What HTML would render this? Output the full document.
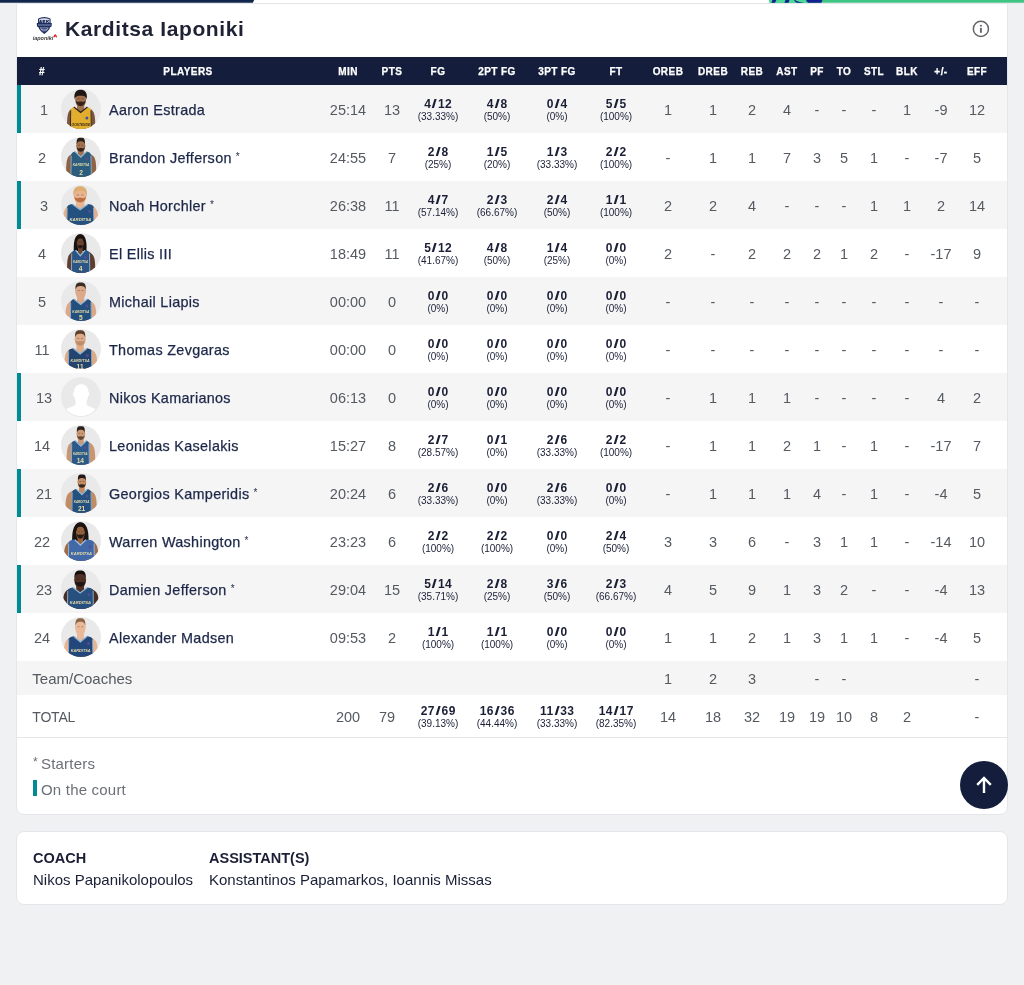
<!DOCTYPE html>
<html lang="en"><head><meta charset="utf-8"><title>Karditsa Iaponiki - Box score</title>
<style>
*{box-sizing:border-box;margin:0;padding:0}
html,body{width:1024px;height:985px;overflow:hidden}
body{background:#f0f1f3;font-family:"Liberation Sans",Arial,sans-serif;color:#1d2340;position:relative}
.topbar-l{position:absolute;left:0;top:0;width:256px;height:3px;background:#12284f;clip-path:polygon(0 0,100% 0,251px 100%,0 100%)}
.topbar-r{position:absolute;left:769px;top:0;width:255px;height:3px;background:#3cb878}
.topbar-r i{position:absolute;top:0;height:3px;background:#13208c}
.topbar{position:absolute;left:0;top:0;display:block}
.card{position:absolute;left:16px;width:992px;background:#fff;border:1px solid #e4e6ea;border-radius:8px}
.card1{top:3px;height:812px;border-top-left-radius:0;border-top-right-radius:0}
.card2{top:831px;height:74px}
.logo{position:absolute;left:15px;top:12px}
h1{position:absolute;left:48px;top:11px;font-size:21px;line-height:28px;font-weight:700;color:#1e2234;letter-spacing:0.6px;white-space:nowrap}
.info{position:absolute;left:954px;top:15px}
.thead{position:absolute;left:0;top:53px;width:990px;height:28px;background:#141e3c;color:#fff;font-size:10px;font-weight:700;line-height:30px;letter-spacing:0.45px;-webkit-text-stroke:0.25px #fff}
.row{position:absolute;left:0;width:990px;height:48px;font-size:14.5px;line-height:50px;color:#555a60}
.row.odd{background:#f5f5f5}
.row.on::before{content:"";position:absolute;left:0;top:0;width:4px;height:48px;background:#008b95}
.c{position:absolute;top:0;width:80px;text-align:center;white-space:nowrap}
.no{position:absolute;top:0;left:5px;width:40px;text-align:center}
.on .no{left:7px}
.av{position:absolute;left:44px;top:4px;width:40px;height:40px;border-radius:50%;background:#e9e9ea;overflow:hidden;display:block}
.on .av{left:44px}
.av.empty{background:#fff;border:1px solid #ececec}
.av svg{display:block}
.nm{position:absolute;left:92px;top:0;color:#1d2748;font-size:14.4px;white-space:nowrap;letter-spacing:0.32px;-webkit-text-stroke:0.25px #1d2748}
.nm sup{font-size:10px;vertical-align:baseline;position:relative;top:-3px;margin-left:4px;-webkit-text-stroke:0}
.sh{line-height:normal;color:#1a1f36}
.sh b{display:block;font-size:12px;line-height:12px;font-weight:700;margin-top:13px;letter-spacing:0.5px;text-indent:0.5px}
.sh b i{font-style:normal;display:inline-block;transform:scaleX(1.6);margin:0 1.1px}
.sh span{display:block;font-size:10px;line-height:12px;font-weight:400;margin-top:1px}
.row.tc{height:34px;line-height:36px}
.row.tot{height:42px;line-height:44px}
.row.tot .sh b{margin-top:10px}
.lbl{position:absolute;left:15.3px;top:0;font-size:15px;color:#555a60}
.tot .lbl{font-size:14px;letter-spacing:-0.2px}
.sep{position:absolute;left:0;top:733px;width:990px;height:1px;background:#e4e6ea}
.legend{position:absolute;left:16px;font-size:15px;color:#6b6f76;line-height:20px;white-space:nowrap;letter-spacing:0.2px}
.legend em{font-style:normal;font-size:12px;position:absolute;left:0;top:-2px}
.legend i{position:absolute;left:0;top:0px;width:4px;height:16px;background:#008b95}
.totop{position:absolute;left:943px;top:757px;width:48px;height:48px;border-radius:50%;background:#141e3c}
.coach{position:absolute;top:15px;font-size:15px;line-height:22px;color:#1a1f36;white-space:nowrap}
.coach b{display:block;font-size:14.5px;font-weight:700}
</style></head><body>
<svg class="topbar" width="1024" height="4" viewBox="0 0 1024 4">
<rect x="0" y="0" width="1024" height="3" fill="#fff"/><rect x="0" y="3" width="1024" height="1" fill="#e9eaed"/>
<path d="M0 0 H254.2 L252.8 2.75 H0 Z" fill="#11264b"/>
<path d="M769 0 H1024 V2.75 H769.6 Z" fill="#3fc583"/>
<path d="M769 0 H822 V2.75 H769.6 Z" fill="#4cd896"/>
<path d="M772.4 0 H776.4 L775 2.75 H771.4 Z M785.5 0 H789.5 L788.6 2.75 H784.4 Z M795 0 C797 1.6 800 2.2 804 2.75 H797 C795.6 2 794.4 1 794 0 Z M806 0 H822.4 L821.4 2.75 H808 C807 2 806.4 1 806 0 Z" fill="#13208f"/>
</svg>
<div class="card card1">
<svg class="logo" width="28" height="28" viewBox="0 0 28 28">
<path d="M6 2.7 C8 1.6 10 0.9 12.3 0.9 C14.6 0.9 16.6 1.6 18.6 2.7 L18.6 6.7 L19.9 7.3 L19.5 10.5 L18.2 11.2 C17.2 14 15 16.3 12.3 17.9 C9.6 16.3 7.4 14 6.4 11.2 L5.1 10.5 L4.7 7.3 L6 6.7 Z" fill="#1f2f63"/>
<path d="M7.1 3.3 C9 2.5 10.5 2.2 12.3 2.2 C14.1 2.2 15.6 2.5 17.5 3.3 L17.5 7 L7.1 7 Z" fill="#d3d9e6"/>
<text x="12.3" y="6.5" text-anchor="middle" font-family="Liberation Sans, Arial, sans-serif" font-size="4.4" font-weight="700" fill="#0f1a45" stroke="#0f1a45" stroke-width="0.25" letter-spacing="0.45">AEK</text>
<path d="M6 8.5 H18.6 V9.5 H6 Z" fill="#8794b6"/>
<path d="M7.8 11.4 H16.8 C16 13 15 14.2 13.8 15.2 H10.8 C9.6 14.2 8.6 13 7.8 11.4 Z" fill="#c9d0e0" opacity=".85"/>
<path d="M9.3 12.4 H15.3 M10.3 14 H14.3" stroke="#1f2f63" stroke-width="0.8"/>
<text x="0.8" y="24.1" font-family="Liberation Sans, Arial, sans-serif" font-size="5.5" font-weight="700" font-style="italic" fill="#3a3a3c" letter-spacing="-0.05">iaponiki</text>
<path d="M21.7 21.4 C21.2 19.6 22.6 18.4 23.4 17.9 C23.6 18.8 25.4 19.4 25 21.4 C24.6 21.9 24.2 21.2 23.4 20.6 C22.6 21.2 22.2 21.9 21.7 21.4 Z" fill="#e4262c"/>
</svg>
<h1>Karditsa Iaponiki</h1>
<svg class="info" width="20" height="20" viewBox="0 0 20 20"><circle cx="9.9" cy="9.9" r="7.55" fill="none" stroke="#636569" stroke-width="1.5"/><rect x="8.95" y="8.9" width="1.9" height="4.9" fill="#636569"/><rect x="8.95" y="5.9" width="1.9" height="1.6" fill="#636569"/></svg>

<div class="thead"><span class="c" style="left:-15px">#</span><span class="c" style="left:131px">PLAYERS</span><span class="c" style="left:291px">MIN</span><span class="c" style="left:335px">PTS</span><span class="c" style="left:381px">FG</span><span class="c" style="left:440px">2PT FG</span><span class="c" style="left:500px">3PT FG</span><span class="c" style="left:559px">FT</span><span class="c" style="left:611px">OREB</span><span class="c" style="left:656px">DREB</span><span class="c" style="left:695px">REB</span><span class="c" style="left:730px">AST</span><span class="c" style="left:760px">PF</span><span class="c" style="left:787px">TO</span><span class="c" style="left:817px">STL</span><span class="c" style="left:850px">BLK</span><span class="c" style="left:884px">+/-</span><span class="c" style="left:920px">EFF</span></div>
<div class="row odd on" style="top:81px"><span class="no">1</span><span class="av"><svg viewBox="0 0 40 40" width="40" height="40"><path d="M6.2 41 C5.7 27.0 6.7 22.5 10.2 20.0 L29.5 20.0 C33.6 22.5 34.6 27.0 34.1 41 Z" fill="#7a5540"/><rect x="16.02" y="14.60" width="7.25" height="7.70" fill="#a06f4e"/><path d="M9.2 41 L9.5 21.5 C9.799999999999999 19.5 11.2 18.3 12.89 17.90 L19.65 23.50 L26.41 17.90 C28.5 18.3 29.9 19.5 30.2 21.5 L30.5 41 Z" fill="#e3ae2d"/><path d="M12.89 18.10 L19.65 23.50 L26.41 18.10" fill="none" stroke="#2a2320" stroke-width="1.3"/><path d="M9.7 21.5 L9.399999999999999 41 M30.0 21.5 L30.3 41" fill="none" stroke="#2a2320" stroke-width="0.9"/><ellipse cx="19.65" cy="10.45" rx="5.38" ry="8.55" fill="#a06f4e"/><ellipse cx="19.65" cy="10.25" rx="5.73" ry="1.5" fill="#a06f4e"/><path d="M14.74 11.05 C14.97 19.20 24.33 19.20 24.56 11.05 C22.57 14.05 22.28 12.45 19.65 12.45 C17.02 12.45 16.72 14.05 14.74 11.05 Z" fill="#2a1c16" opacity=".92"/><path d="M13.600000000000001 10.35 C12.4 2.1 16.65 0.5000000000000001 19.65 0.7000000000000001 C22.65 0.5000000000000001 26.9 2.1 25.7 10.35 C24.5 6.9 22.65 6.699999999999999 19.65 6.699999999999999 C16.65 6.699999999999999 14.8 6.9 13.600000000000001 10.35 Z" fill="#1f1714"/><path d="M16.72 9.65 h1.99 M20.59 9.65 h1.99" stroke="#2a1c16" stroke-width="0.6" opacity=".55"/><text x="19.85" y="36.5" text-anchor="middle" font-family="Liberation Sans, Arial, sans-serif" font-size="3.30" font-weight="700" font-style="italic" fill="#3a2a18">OOSTENDE</text><circle cx="25.90" cy="29.00" r="1.5" fill="#2b4ea0" opacity=".9"/></svg></span><span class="nm">Aaron Estrada</span><span class="c" style="left:291px">25:14</span><span class="c" style="left:335px">13</span><span class="c sh" style="left:381px"><b>4<i>/</i>12</b><span>(33.33%)</span></span><span class="c sh" style="left:440px"><b>4<i>/</i>8</b><span>(50%)</span></span><span class="c sh" style="left:500px"><b>0<i>/</i>4</b><span>(0%)</span></span><span class="c sh" style="left:559px"><b>5<i>/</i>5</b><span>(100%)</span></span><span class="c" style="left:611px">1</span><span class="c" style="left:656px">1</span><span class="c" style="left:695px">2</span><span class="c" style="left:730px">4</span><span class="c" style="left:760px">-</span><span class="c" style="left:787px">-</span><span class="c" style="left:817px">-</span><span class="c" style="left:850px">1</span><span class="c" style="left:884px">-9</span><span class="c" style="left:920px">12</span></div>
<div class="row" style="top:129px"><span class="no">2</span><span class="av"><svg viewBox="0 0 40 40" width="40" height="40"><path d="M5.2 41 C4.7 24.0 5.7 19.5 10.7 17.0 L29.5 17.0 C34.6 19.5 35.6 24.0 35.1 41 Z" fill="#8f6244"/><rect x="16.82" y="12.00" width="5.95" height="6.80" fill="#a3714f"/><path d="M9.7 41 L10.0 18.5 C10.299999999999999 16.0 11.7 14.8 14.04 14.40 L19.80 20.00 L25.56 14.40 C28.5 14.8 29.9 16.0 30.2 18.5 L30.5 41 Z" fill="#2c5d7f"/><path d="M14.04 14.60 L19.80 20.00 L25.56 14.60" fill="none" stroke="#8fb4cc" stroke-width="1.3"/><path d="M10.2 18.5 L9.899999999999999 41 M30.0 18.5 L30.3 41" fill="none" stroke="#8fb4cc" stroke-width="0.9"/><ellipse cx="19.80" cy="9.00" rx="4.42" ry="7.40" fill="#a3714f"/><ellipse cx="19.80" cy="8.80" rx="4.70" ry="1.5" fill="#a3714f"/><path d="M15.77 9.60 C15.96 16.60 23.64 16.60 23.83 9.60 C22.20 12.60 21.96 11.00 19.80 11.00 C17.64 11.00 17.40 12.60 15.77 9.60 Z" fill="#2a1c16" opacity=".92"/><path d="M15.7 7.80 C15.2 1.4 16.8 0.7000000000000001 19.8 0.8 C22.8 0.7000000000000001 24.400000000000002 1.4 23.900000000000002 7.80 C23.3 5.0 22.400000000000002 4.2 19.8 4.3 C17.2 4.2 16.3 5.0 15.7 7.80 Z" fill="#2a1e18"/><path d="M17.40 8.20 h1.63 M20.57 8.20 h1.63" stroke="#2a1c16" stroke-width="0.6" opacity=".55"/><text x="20.10" y="29.1" text-anchor="middle" font-family="Liberation Sans, Arial, sans-serif" font-size="3.22" font-weight="700" font-style="italic" fill="#e8dca8">KARDITSA</text><text x="20.10" y="37.6" text-anchor="middle" font-family="Liberation Sans, Arial, sans-serif" font-size="6.6" font-weight="700" fill="#e8dca8">2</text><circle cx="25.90" cy="21.60" r="1.5" fill="#5a4a9a" opacity=".9"/></svg></span><span class="nm">Brandon Jefferson<sup>*</sup></span><span class="c" style="left:291px">24:55</span><span class="c" style="left:335px">7</span><span class="c sh" style="left:381px"><b>2<i>/</i>8</b><span>(25%)</span></span><span class="c sh" style="left:440px"><b>1<i>/</i>5</b><span>(20%)</span></span><span class="c sh" style="left:500px"><b>1<i>/</i>3</b><span>(33.33%)</span></span><span class="c sh" style="left:559px"><b>2<i>/</i>2</b><span>(100%)</span></span><span class="c" style="left:611px">-</span><span class="c" style="left:656px">1</span><span class="c" style="left:695px">1</span><span class="c" style="left:730px">7</span><span class="c" style="left:760px">3</span><span class="c" style="left:787px">5</span><span class="c" style="left:817px">1</span><span class="c" style="left:850px">-</span><span class="c" style="left:884px">-7</span><span class="c" style="left:920px">5</span></div>
<div class="row odd on" style="top:177px"><span class="no">3</span><span class="av"><svg viewBox="0 0 40 40" width="40" height="40"><path d="M2.1 41 C1.6 28.4 2.6 23.9 6.7 21.4 L32.1 21.4 C36.6 23.9 37.6 28.4 37.1 41 Z" fill="#e6b08c"/><rect x="14.90" y="14.90" width="8.49" height="8.50" fill="#e9b591"/><path d="M5.7 41 L6.0 22.9 C6.3 20.599999999999998 7.7 19.4 11.44 19.00 L19.15 24.60 L26.86 19.00 C31.1 19.4 32.5 20.599999999999998 32.800000000000004 22.9 L33.1 41 Z" fill="#23507f"/><path d="M11.44 19.20 L19.15 24.60 L26.86 19.20" fill="none" stroke="#8fb4d4" stroke-width="1.3"/><path d="M6.2 22.9 L5.9 41 M32.6 22.9 L32.9 41" fill="none" stroke="#8fb4d4" stroke-width="0.9"/><ellipse cx="19.15" cy="10.75" rx="6.30" ry="8.55" fill="#e9b591"/><ellipse cx="19.15" cy="10.55" rx="6.71" ry="1.5" fill="#e9b591"/><path d="M13.40 11.35 C13.67 19.50 24.63 19.50 24.90 11.35 C22.57 14.35 22.23 12.75 19.15 12.75 C16.07 12.75 15.72 14.35 13.40 11.35 Z" fill="#b9683d" opacity=".92"/><path d="M12.3 11.15 C11.5 2.4 16.15 1.0999999999999999 19.15 1.2 C22.15 1.0999999999999999 26.8 2.4 26.0 11.15 C24.8 6.6 22.15 5.6 19.15 5.800000000000001 C16.15 5.6 13.5 6.6 12.3 11.15 Z" fill="#dcae72"/><path d="M15.72 9.95 h2.33 M20.25 9.95 h2.33" stroke="#2a1c16" stroke-width="0.6" opacity=".55"/><text x="19.40" y="35.5" text-anchor="middle" font-family="Liberation Sans, Arial, sans-serif" font-size="4.24" font-weight="700" font-style="italic" fill="#e8dca8">KARDITSA</text><circle cx="28.50" cy="26.20" r="1.5" fill="#5a4a9a" opacity=".9"/></svg></span><span class="nm">Noah Horchler<sup>*</sup></span><span class="c" style="left:291px">26:38</span><span class="c" style="left:335px">11</span><span class="c sh" style="left:381px"><b>4<i>/</i>7</b><span>(57.14%)</span></span><span class="c sh" style="left:440px"><b>2<i>/</i>3</b><span>(66.67%)</span></span><span class="c sh" style="left:500px"><b>2<i>/</i>4</b><span>(50%)</span></span><span class="c sh" style="left:559px"><b>1<i>/</i>1</b><span>(100%)</span></span><span class="c" style="left:611px">2</span><span class="c" style="left:656px">2</span><span class="c" style="left:695px">4</span><span class="c" style="left:730px">-</span><span class="c" style="left:760px">-</span><span class="c" style="left:787px">-</span><span class="c" style="left:817px">1</span><span class="c" style="left:850px">1</span><span class="c" style="left:884px">2</span><span class="c" style="left:920px">14</span></div>
<div class="row" style="top:225px"><span class="no">4</span><span class="av"><svg viewBox="0 0 40 40" width="40" height="40"><path d="M12.8 18.0 C12.200000000000001 5.3 15.3 1.3 19.3 1.3 C23.3 1.3 26.1 5.3 25.5 18.0 Z" fill="#17110f"/><path d="M6.2 41 C5.7 26.0 6.7 21.5 11.2 19.0 L28.0 19.0 C33.6 21.5 34.6 26.0 34.1 41 Z" fill="#5e3e2c"/><rect x="17.01" y="12.60" width="4.59" height="8.90" fill="#6a4631"/><path d="M10.2 41 L10.5 20.5 C10.799999999999999 18.7 12.2 17.5 14.59 17.10 L19.30 22.70 L24.02 17.10 C27.0 17.5 28.4 18.7 28.7 20.5 L29.0 41 Z" fill="#2a5585"/><path d="M14.59 17.30 L19.30 22.70 L24.02 17.30" fill="none" stroke="#8fb4d4" stroke-width="1.3"/><path d="M10.7 20.5 L10.399999999999999 41 M28.5 20.5 L28.8 41" fill="none" stroke="#8fb4d4" stroke-width="0.9"/><ellipse cx="19.30" cy="10.10" rx="3.40" ry="6.90" fill="#6a4631"/><ellipse cx="19.30" cy="9.90" rx="3.63" ry="1.5" fill="#6a4631"/><path d="M16.19 10.70 C16.34 17.20 22.26 17.20 22.41 10.70 C21.15 13.70 20.96 12.10 19.30 12.10 C17.64 12.10 17.45 13.70 16.19 10.70 Z" fill="#1d1512" opacity=".92"/><path d="M15.799999999999999 9.50 C15.2 2.4 16.3 1.5999999999999999 19.3 1.5999999999999999 C22.3 1.5999999999999999 23.4 2.4 22.8 9.50 C22.0 6.4 21.8 5.6 19.3 5.6 C16.8 5.6 16.6 6.4 15.799999999999999 9.50 Z" fill="#17110f"/><path d="M17.45 9.30 h1.26 M19.89 9.30 h1.26" stroke="#2a1c16" stroke-width="0.6" opacity=".55"/><text x="19.60" y="30.1" text-anchor="middle" font-family="Liberation Sans, Arial, sans-serif" font-size="2.91" font-weight="700" font-style="italic" fill="#e8dca8">KARDITSA</text><text x="19.60" y="38.1" text-anchor="middle" font-family="Liberation Sans, Arial, sans-serif" font-size="6.6" font-weight="700" fill="#e8dca8">4</text><circle cx="24.40" cy="24.30" r="1.5" fill="#5a4a9a" opacity=".9"/></svg></span><span class="nm">El Ellis III</span><span class="c" style="left:291px">18:49</span><span class="c" style="left:335px">11</span><span class="c sh" style="left:381px"><b>5<i>/</i>12</b><span>(41.67%)</span></span><span class="c sh" style="left:440px"><b>4<i>/</i>8</b><span>(50%)</span></span><span class="c sh" style="left:500px"><b>1<i>/</i>4</b><span>(25%)</span></span><span class="c sh" style="left:559px"><b>0<i>/</i>0</b><span>(0%)</span></span><span class="c" style="left:611px">2</span><span class="c" style="left:656px">-</span><span class="c" style="left:695px">2</span><span class="c" style="left:730px">2</span><span class="c" style="left:760px">2</span><span class="c" style="left:787px">1</span><span class="c" style="left:817px">2</span><span class="c" style="left:850px">-</span><span class="c" style="left:884px">-17</span><span class="c" style="left:920px">9</span></div>
<div class="row odd" style="top:273px"><span class="no">5</span><span class="av"><svg viewBox="0 0 40 40" width="40" height="40"><path d="M4.6 41 C4.1 26.9 5.1 22.4 10.2 19.9 L29.5 19.9 C34.6 22.4 35.6 26.9 35.1 41 Z" fill="#dba888"/><rect x="16.02" y="13.80" width="7.25" height="8.50" fill="#dcaa8b"/><path d="M9.2 41 L9.5 21.4 C9.799999999999999 19.5 11.2 18.3 12.89 17.90 L19.65 23.50 L26.41 17.90 C28.5 18.3 29.9 19.5 30.2 21.4 L30.5 41 Z" fill="#234f7c"/><path d="M12.89 18.10 L19.65 23.50 L26.41 18.10" fill="none" stroke="#8fb4d4" stroke-width="1.3"/><path d="M9.7 21.4 L9.399999999999999 41 M30.0 21.4 L30.3 41" fill="none" stroke="#8fb4d4" stroke-width="0.9"/><ellipse cx="19.65" cy="10.30" rx="5.38" ry="7.90" fill="#dcaa8b"/><ellipse cx="19.65" cy="10.10" rx="5.73" ry="1.5" fill="#dcaa8b"/><path d="M14.5 9.10 C14.0 2.2 16.65 1.5 19.65 1.6 C22.65 1.5 25.3 2.2 24.8 9.10 C24.2 5.800000000000001 22.25 5.0 19.65 5.1 C17.049999999999997 5.0 15.100000000000001 5.800000000000001 14.5 9.10 Z" fill="#3c2c24"/><path d="M16.72 9.50 h1.99 M20.59 9.50 h1.99" stroke="#2a1c16" stroke-width="0.6" opacity=".55"/><text x="19.85" y="32.4" text-anchor="middle" font-family="Liberation Sans, Arial, sans-serif" font-size="3.30" font-weight="700" font-style="italic" fill="#e8dca8">KARDITSA</text><text x="19.85" y="39.4" text-anchor="middle" font-family="Liberation Sans, Arial, sans-serif" font-size="6.6" font-weight="700" fill="#e8dca8">5</text><circle cx="25.90" cy="25.10" r="1.5" fill="#5a4a9a" opacity=".9"/></svg></span><span class="nm">Michail Liapis</span><span class="c" style="left:291px">00:00</span><span class="c" style="left:335px">0</span><span class="c sh" style="left:381px"><b>0<i>/</i>0</b><span>(0%)</span></span><span class="c sh" style="left:440px"><b>0<i>/</i>0</b><span>(0%)</span></span><span class="c sh" style="left:500px"><b>0<i>/</i>0</b><span>(0%)</span></span><span class="c sh" style="left:559px"><b>0<i>/</i>0</b><span>(0%)</span></span><span class="c" style="left:611px">-</span><span class="c" style="left:656px">-</span><span class="c" style="left:695px">-</span><span class="c" style="left:730px">-</span><span class="c" style="left:760px">-</span><span class="c" style="left:787px">-</span><span class="c" style="left:817px">-</span><span class="c" style="left:850px">-</span><span class="c" style="left:884px">-</span><span class="c" style="left:920px">-</span></div>
<div class="row" style="top:321px"><span class="no">11</span><span class="av"><svg viewBox="0 0 40 40" width="40" height="40"><path d="M3.6 41 C3.1 27.6 4.1 23.1 8.2 20.6 L30.0 20.6 C35.6 23.1 36.6 27.6 36.1 41 Z" fill="#dcaa86"/><rect x="15.52" y="14.00" width="7.25" height="9.60" fill="#ddab87"/><path d="M7.2 41 L7.5 22.1 C7.8 20.8 9.2 19.6 12.39 19.20 L19.15 24.80 L25.91 19.20 C29.0 19.6 30.4 20.8 30.7 22.1 L31.0 41 Z" fill="#23446f"/><path d="M12.39 19.40 L19.15 24.80 L25.91 19.40" fill="none" stroke="#8fb4d4" stroke-width="1.3"/><path d="M7.7 22.1 L7.4 41 M30.5 22.1 L30.8 41" fill="none" stroke="#8fb4d4" stroke-width="0.9"/><ellipse cx="19.15" cy="10.25" rx="5.38" ry="8.15" fill="#ddab87"/><ellipse cx="19.15" cy="10.05" rx="5.73" ry="1.5" fill="#ddab87"/><path d="M14.24 10.85 C14.47 18.60 23.83 18.60 24.06 10.85 C22.07 13.85 21.78 12.25 19.15 12.25 C16.52 12.25 16.22 13.85 14.24 10.85 Z" fill="#b98a68" opacity=".92"/><path d="M14.0 9.05 C13.5 1.9 16.15 1.2 19.15 1.3 C22.15 1.2 24.8 1.9 24.3 9.05 C23.7 5.5 21.75 4.7 19.15 4.8 C16.549999999999997 4.7 14.600000000000001 5.5 14.0 9.05 Z" fill="#5b3f2b"/><path d="M16.22 9.45 h1.99 M20.09 9.45 h1.99" stroke="#2a1c16" stroke-width="0.6" opacity=".55"/><text x="19.10" y="33.2" text-anchor="middle" font-family="Liberation Sans, Arial, sans-serif" font-size="3.69" font-weight="700" font-style="italic" fill="#e8dca8">KARDITSA</text><text x="19.10" y="40.2" text-anchor="middle" font-family="Liberation Sans, Arial, sans-serif" font-size="6.6" font-weight="700" fill="#e8dca8">11</text><circle cx="26.40" cy="26.40" r="1.5" fill="#5a4a9a" opacity=".9"/></svg></span><span class="nm">Thomas Zevgaras</span><span class="c" style="left:291px">00:00</span><span class="c" style="left:335px">0</span><span class="c sh" style="left:381px"><b>0<i>/</i>0</b><span>(0%)</span></span><span class="c sh" style="left:440px"><b>0<i>/</i>0</b><span>(0%)</span></span><span class="c sh" style="left:500px"><b>0<i>/</i>0</b><span>(0%)</span></span><span class="c sh" style="left:559px"><b>0<i>/</i>0</b><span>(0%)</span></span><span class="c" style="left:611px">-</span><span class="c" style="left:656px">-</span><span class="c" style="left:695px">-</span><span class="c" style="left:730px">-</span><span class="c" style="left:760px">-</span><span class="c" style="left:787px">-</span><span class="c" style="left:817px">-</span><span class="c" style="left:850px">-</span><span class="c" style="left:884px">-</span><span class="c" style="left:920px">-</span></div>
<div class="row odd on" style="top:369px"><span class="no">13</span><span class="av"><svg viewBox="0 0 40 40" width="40" height="40"><path d="M13 15 C13 4.5 27.5 4.5 27.5 15 C28.6 15.4 28.4 19 27 19.4 C26.6 22 26 23.2 25.6 24 L25.6 27.5 C27 29.5 31 30.2 34.5 32 C31 37 25 39 20 39 C15 39 9 37 5.2 32 C9 30.2 13 29.5 14.6 27.5 L14.6 24 C14.2 23.2 13.6 22 13.2 19.4 C11.8 19 11.6 15.4 13 15 Z" fill="#fff"/></svg></span><span class="nm">Nikos Kamarianos</span><span class="c" style="left:291px">06:13</span><span class="c" style="left:335px">0</span><span class="c sh" style="left:381px"><b>0<i>/</i>0</b><span>(0%)</span></span><span class="c sh" style="left:440px"><b>0<i>/</i>0</b><span>(0%)</span></span><span class="c sh" style="left:500px"><b>0<i>/</i>0</b><span>(0%)</span></span><span class="c sh" style="left:559px"><b>0<i>/</i>0</b><span>(0%)</span></span><span class="c" style="left:611px">-</span><span class="c" style="left:656px">1</span><span class="c" style="left:695px">1</span><span class="c" style="left:730px">1</span><span class="c" style="left:760px">-</span><span class="c" style="left:787px">-</span><span class="c" style="left:817px">-</span><span class="c" style="left:850px">-</span><span class="c" style="left:884px">4</span><span class="c" style="left:920px">2</span></div>
<div class="row" style="top:417px"><span class="no">14</span><span class="av"><svg viewBox="0 0 40 40" width="40" height="40"><path d="M5.7 41 C5.2 24.0 6.2 19.5 11.2 17.0 L27.5 17.0 C33.6 19.5 34.6 24.0 34.1 41 Z" fill="#c99674"/><rect x="17.03" y="12.00" width="5.64" height="8.00" fill="#cd9a78"/><path d="M10.2 41 L10.5 18.5 C10.799999999999999 17.2 12.2 16.0 14.33 15.60 L19.85 21.20 L25.37 15.60 C26.5 16.0 27.9 17.2 28.2 18.5 L28.5 41 Z" fill="#2b5a8a"/><path d="M14.33 15.80 L19.85 21.20 L25.37 15.80" fill="none" stroke="#8fb4d4" stroke-width="1.3"/><path d="M10.7 18.5 L10.399999999999999 41 M28.0 18.5 L28.3 41" fill="none" stroke="#8fb4d4" stroke-width="0.9"/><ellipse cx="19.85" cy="9.25" rx="4.19" ry="7.15" fill="#cd9a78"/><ellipse cx="19.85" cy="9.05" rx="4.46" ry="1.5" fill="#cd9a78"/><path d="M16.03 9.85 C16.21 16.60 23.49 16.60 23.67 9.85 C22.12 12.85 21.90 11.25 19.85 11.25 C17.80 11.25 17.58 12.85 16.03 9.85 Z" fill="#5a4030" opacity=".92"/><path d="M16.0 8.05 C15.5 1.9 16.85 1.2 19.85 1.3 C22.85 1.2 24.2 1.9 23.7 8.05 C23.099999999999998 5.5 22.450000000000003 4.7 19.85 4.8 C17.25 4.7 16.6 5.5 16.0 8.05 Z" fill="#2b211b"/><path d="M17.58 8.45 h1.55 M20.58 8.45 h1.55" stroke="#2a1c16" stroke-width="0.6" opacity=".55"/><text x="19.35" y="29.6" text-anchor="middle" font-family="Liberation Sans, Arial, sans-serif" font-size="2.83" font-weight="700" font-style="italic" fill="#e8dca8">KARDITSA</text><text x="19.35" y="37.6" text-anchor="middle" font-family="Liberation Sans, Arial, sans-serif" font-size="6.6" font-weight="700" fill="#e8dca8">14</text><circle cx="23.90" cy="22.80" r="1.5" fill="#5a4a9a" opacity=".9"/></svg></span><span class="nm">Leonidas Kaselakis</span><span class="c" style="left:291px">15:27</span><span class="c" style="left:335px">8</span><span class="c sh" style="left:381px"><b>2<i>/</i>7</b><span>(28.57%)</span></span><span class="c sh" style="left:440px"><b>0<i>/</i>1</b><span>(0%)</span></span><span class="c sh" style="left:500px"><b>2<i>/</i>6</b><span>(33.33%)</span></span><span class="c sh" style="left:559px"><b>2<i>/</i>2</b><span>(100%)</span></span><span class="c" style="left:611px">-</span><span class="c" style="left:656px">1</span><span class="c" style="left:695px">1</span><span class="c" style="left:730px">2</span><span class="c" style="left:760px">1</span><span class="c" style="left:787px">-</span><span class="c" style="left:817px">1</span><span class="c" style="left:850px">-</span><span class="c" style="left:884px">-17</span><span class="c" style="left:920px">7</span></div>
<div class="row odd on" style="top:465px"><span class="no">21</span><span class="av"><svg viewBox="0 0 40 40" width="40" height="40"><path d="M4.6 41 C4.1 24.8 5.1 20.3 11.7 17.8 L29.5 17.8 C35.1 20.3 36.1 24.8 35.6 41 Z" fill="#c18b64"/><rect x="18.05" y="11.80" width="5.70" height="8.50" fill="#c38d66"/><path d="M10.7 41 L11.0 19.3 C11.299999999999999 17.5 12.7 16.3 15.33 15.90 L20.90 21.50 L26.47 15.90 C28.5 16.3 29.9 17.5 30.2 19.3 L30.5 41 Z" fill="#23507f"/><path d="M15.33 16.10 L20.90 21.50 L26.47 16.10" fill="none" stroke="#8fb4d4" stroke-width="1.3"/><path d="M11.2 19.3 L10.899999999999999 41 M30.0 19.3 L30.3 41" fill="none" stroke="#8fb4d4" stroke-width="0.9"/><ellipse cx="20.90" cy="9.30" rx="4.23" ry="6.90" fill="#c38d66"/><ellipse cx="20.90" cy="9.10" rx="4.51" ry="1.5" fill="#c38d66"/><path d="M17.04 9.90 C17.22 16.40 24.58 16.40 24.76 9.90 C23.20 12.90 22.97 11.30 20.90 11.30 C18.83 11.30 18.60 12.90 17.04 9.90 Z" fill="#2a1e18" opacity=".92"/><path d="M17.0 8.10 C16.5 2.2 17.9 1.5 20.9 1.6 C23.9 1.5 25.3 2.2 24.8 8.10 C24.2 5.800000000000001 23.5 5.0 20.9 5.1 C18.299999999999997 5.0 17.6 5.800000000000001 17.0 8.10 Z" fill="#211915"/><path d="M18.60 8.50 h1.56 M21.64 8.50 h1.56" stroke="#2a1c16" stroke-width="0.6" opacity=".55"/><text x="20.60" y="30.4" text-anchor="middle" font-family="Liberation Sans, Arial, sans-serif" font-size="3.07" font-weight="700" font-style="italic" fill="#e8dca8">KARDITSA</text><text x="20.60" y="38.4" text-anchor="middle" font-family="Liberation Sans, Arial, sans-serif" font-size="6.6" font-weight="700" fill="#e8dca8">21</text><circle cx="25.90" cy="23.10" r="1.5" fill="#5a4a9a" opacity=".9"/></svg></span><span class="nm">Georgios Kamperidis<sup>*</sup></span><span class="c" style="left:291px">20:24</span><span class="c" style="left:335px">6</span><span class="c sh" style="left:381px"><b>2<i>/</i>6</b><span>(33.33%)</span></span><span class="c sh" style="left:440px"><b>0<i>/</i>0</b><span>(0%)</span></span><span class="c sh" style="left:500px"><b>2<i>/</i>6</b><span>(33.33%)</span></span><span class="c sh" style="left:559px"><b>0<i>/</i>0</b><span>(0%)</span></span><span class="c" style="left:611px">-</span><span class="c" style="left:656px">1</span><span class="c" style="left:695px">1</span><span class="c" style="left:730px">1</span><span class="c" style="left:760px">4</span><span class="c" style="left:787px">-</span><span class="c" style="left:817px">1</span><span class="c" style="left:850px">-</span><span class="c" style="left:884px">-4</span><span class="c" style="left:920px">5</span></div>
<div class="row" style="top:513px"><span class="no">22</span><span class="av"><svg viewBox="0 0 40 40" width="40" height="40"><path d="M11.2 20.6 C10.6 5.3 15.399999999999999 1.3 19.4 1.3 C23.4 1.3 28.1 5.3 27.5 20.6 Z" fill="#1b1411"/><path d="M3.1 41 C2.6 28.0 3.6 23.5 8.2 21.0 L32.6 21.0 C36.6 23.5 37.6 28.0 37.1 41 Z" fill="#a06c48"/><rect x="16.55" y="15.00" width="5.70" height="8.00" fill="#94623f"/><path d="M7.2 41 L7.5 22.5 C7.8 20.2 9.2 19.0 13.83 18.60 L19.40 24.20 L24.97 18.60 C31.6 19.0 33.0 20.2 33.300000000000004 22.5 L33.6 41 Z" fill="#4169a8"/><path d="M13.83 18.80 L19.40 24.20 L24.97 18.80" fill="none" stroke="#9cbde0" stroke-width="1.3"/><path d="M7.7 22.5 L7.4 41 M33.1 22.5 L33.4 41" fill="none" stroke="#9cbde0" stroke-width="0.9"/><ellipse cx="19.40" cy="11.40" rx="4.23" ry="8.00" fill="#94623f"/><ellipse cx="19.40" cy="11.20" rx="4.51" ry="1.5" fill="#94623f"/><path d="M15.54 12.00 C15.72 19.60 23.08 19.60 23.26 12.00 C21.70 15.00 21.47 13.40 19.40 13.40 C17.33 13.40 17.10 15.00 15.54 12.00 Z" fill="#1d1512" opacity=".92"/><path d="M15.0 10.80 C14.4 2.6 16.4 1.8 19.4 1.8 C22.4 1.8 24.4 2.6 23.8 10.80 C23.0 6.6 21.9 5.800000000000001 19.4 5.800000000000001 C16.9 5.800000000000001 15.8 6.6 15.0 10.80 Z" fill="#1b1411"/><path d="M17.10 10.60 h1.56 M20.14 10.60 h1.56" stroke="#2a1c16" stroke-width="0.6" opacity=".55"/><text x="20.40" y="34.2" text-anchor="middle" font-family="Liberation Sans, Arial, sans-serif" font-size="4.09" font-weight="700" font-style="italic" fill="#e8dca8">KARDITSA</text><circle cx="29.00" cy="25.80" r="1.5" fill="#5a4a9a" opacity=".9"/></svg></span><span class="nm">Warren Washington<sup>*</sup></span><span class="c" style="left:291px">23:23</span><span class="c" style="left:335px">6</span><span class="c sh" style="left:381px"><b>2<i>/</i>2</b><span>(100%)</span></span><span class="c sh" style="left:440px"><b>2<i>/</i>2</b><span>(100%)</span></span><span class="c sh" style="left:500px"><b>0<i>/</i>0</b><span>(0%)</span></span><span class="c sh" style="left:559px"><b>2<i>/</i>4</b><span>(50%)</span></span><span class="c" style="left:611px">3</span><span class="c" style="left:656px">3</span><span class="c" style="left:695px">6</span><span class="c" style="left:730px">-</span><span class="c" style="left:760px">3</span><span class="c" style="left:787px">1</span><span class="c" style="left:817px">1</span><span class="c" style="left:850px">-</span><span class="c" style="left:884px">-14</span><span class="c" style="left:920px">10</span></div>
<div class="row odd on" style="top:561px"><span class="no">23</span><span class="av"><svg viewBox="0 0 40 40" width="40" height="40"><path d="M2.1 41 C1.6 27.4 2.6 22.9 7.2 20.4 L31.6 20.4 C37.1 22.9 38.1 27.4 37.6 41 Z" fill="#4a2e22"/><rect x="15.21" y="15.20" width="7.87" height="7.60" fill="#4e3024"/><path d="M6.2 41 L6.5 21.9 C6.8 20.0 8.2 18.8 11.92 18.40 L19.15 24.00 L26.38 18.40 C30.6 18.8 32.0 20.0 32.300000000000004 21.9 L32.6 41 Z" fill="#27507f"/><path d="M11.92 18.60 L19.15 24.00 L26.38 18.60" fill="none" stroke="#8fb4d4" stroke-width="1.3"/><path d="M6.7 21.9 L6.4 41 M32.1 21.9 L32.4 41" fill="none" stroke="#8fb4d4" stroke-width="0.9"/><ellipse cx="19.15" cy="11.00" rx="5.84" ry="8.60" fill="#4e3024"/><ellipse cx="19.15" cy="10.80" rx="6.22" ry="1.5" fill="#4e3024"/><path d="M13.82 11.60 C14.07 19.80 24.23 19.80 24.48 11.60 C22.32 14.60 22.01 13.00 19.15 13.00 C16.29 13.00 15.97 14.60 13.82 11.60 Z" fill="#1a1210" opacity=".92"/><path d="M13.5 9.80 C13.0 2.2 16.15 1.5 19.15 1.6 C22.15 1.5 25.3 2.2 24.8 9.80 C24.2 5.800000000000001 21.75 5.0 19.15 5.1 C16.549999999999997 5.0 14.100000000000001 5.800000000000001 13.5 9.80 Z" fill="#15100e"/><path d="M15.97 10.20 h2.16 M20.17 10.20 h2.16" stroke="#2a1c16" stroke-width="0.6" opacity=".55"/><text x="19.40" y="35.0" text-anchor="middle" font-family="Liberation Sans, Arial, sans-serif" font-size="4.09" font-weight="700" font-style="italic" fill="#e8dca8">KARDITSA</text><circle cx="28.00" cy="25.60" r="1.5" fill="#5a4a9a" opacity=".9"/></svg></span><span class="nm">Damien Jefferson<sup>*</sup></span><span class="c" style="left:291px">29:04</span><span class="c" style="left:335px">15</span><span class="c sh" style="left:381px"><b>5<i>/</i>14</b><span>(35.71%)</span></span><span class="c sh" style="left:440px"><b>2<i>/</i>8</b><span>(25%)</span></span><span class="c sh" style="left:500px"><b>3<i>/</i>6</b><span>(50%)</span></span><span class="c sh" style="left:559px"><b>2<i>/</i>3</b><span>(66.67%)</span></span><span class="c" style="left:611px">4</span><span class="c" style="left:656px">5</span><span class="c" style="left:695px">9</span><span class="c" style="left:730px">1</span><span class="c" style="left:760px">3</span><span class="c" style="left:787px">2</span><span class="c" style="left:817px">-</span><span class="c" style="left:850px">-</span><span class="c" style="left:884px">-4</span><span class="c" style="left:920px">13</span></div>
<div class="row" style="top:609px"><span class="no">24</span><span class="av"><svg viewBox="0 0 40 40" width="40" height="40"><path d="M3.1 41 C2.6 28.1 3.6 23.6 8.2 21.1 L31.1 21.1 C36.1 23.6 37.1 28.1 36.6 41 Z" fill="#e9b694"/><rect x="15.93" y="14.60" width="6.94" height="9.00" fill="#eab999"/><path d="M7.2 41 L7.5 22.6 C7.8 20.8 9.2 19.6 12.88 19.20 L19.40 24.80 L25.92 19.20 C30.1 19.6 31.5 20.8 31.8 22.6 L32.1 41 Z" fill="#23477a"/><path d="M12.88 19.40 L19.40 24.80 L25.92 19.40" fill="none" stroke="#8fb4d4" stroke-width="1.3"/><path d="M7.7 22.6 L7.4 41 M31.6 22.6 L31.900000000000002 41" fill="none" stroke="#8fb4d4" stroke-width="0.9"/><ellipse cx="19.40" cy="10.55" rx="5.15" ry="8.45" fill="#eab999"/><ellipse cx="19.40" cy="10.35" rx="5.49" ry="1.5" fill="#eab999"/><path d="M14.5 9.35 C14.0 1.9 16.4 1.2 19.4 1.3 C22.4 1.2 24.8 1.9 24.3 9.35 C23.7 5.5 22.0 4.7 19.4 4.8 C16.799999999999997 4.7 15.100000000000001 5.5 14.5 9.35 Z" fill="#8c6546"/><path d="M16.60 9.75 h1.90 M20.30 9.75 h1.90" stroke="#2a1c16" stroke-width="0.6" opacity=".55"/><text x="19.65" y="35.2" text-anchor="middle" font-family="Liberation Sans, Arial, sans-serif" font-size="3.86" font-weight="700" font-style="italic" fill="#e8dca8">KARDITSA</text><circle cx="27.50" cy="26.40" r="1.5" fill="#5a4a9a" opacity=".9"/></svg></span><span class="nm">Alexander Madsen</span><span class="c" style="left:291px">09:53</span><span class="c" style="left:335px">2</span><span class="c sh" style="left:381px"><b>1<i>/</i>1</b><span>(100%)</span></span><span class="c sh" style="left:440px"><b>1<i>/</i>1</b><span>(100%)</span></span><span class="c sh" style="left:500px"><b>0<i>/</i>0</b><span>(0%)</span></span><span class="c sh" style="left:559px"><b>0<i>/</i>0</b><span>(0%)</span></span><span class="c" style="left:611px">1</span><span class="c" style="left:656px">1</span><span class="c" style="left:695px">2</span><span class="c" style="left:730px">1</span><span class="c" style="left:760px">3</span><span class="c" style="left:787px">1</span><span class="c" style="left:817px">1</span><span class="c" style="left:850px">-</span><span class="c" style="left:884px">-4</span><span class="c" style="left:920px">5</span></div>
<div class="row tc odd" style="top:657px"><span class="lbl">Team/Coaches</span><span class="c" style="left:611px">1</span><span class="c" style="left:656px">2</span><span class="c" style="left:695px">3</span><span class="c" style="left:760px">-</span><span class="c" style="left:787px">-</span><span class="c" style="left:920px">-</span></div>
<div class="row tot" style="top:691px"><span class="lbl">TOTAL</span><span class="c" style="left:291px">200</span><span class="c" style="left:330px">79</span><span class="c" style="left:611px">14</span><span class="c" style="left:656px">18</span><span class="c" style="left:695px">32</span><span class="c" style="left:730px">19</span><span class="c" style="left:760px">19</span><span class="c" style="left:787px">10</span><span class="c" style="left:817px">8</span><span class="c" style="left:850px">2</span><span class="c" style="left:920px">-</span><span class="c sh" style="left:381px"><b>27<i>/</i>69</b><span>(39.13%)</span></span><span class="c sh" style="left:440px"><b>16<i>/</i>36</b><span>(44.44%)</span></span><span class="c sh" style="left:500px"><b>11<i>/</i>33</b><span>(33.33%)</span></span><span class="c sh" style="left:559px"><b>14<i>/</i>17</b><span>(82.35%)</span></span></div>
<div class="sep"></div>
<div class="legend" style="top:750px"><em>*</em><span style="margin-left:8px">Starters</span></div>
<div class="legend" style="top:776px"><i></i><span style="margin-left:8px">On the court</span></div>
<div class="totop"><svg width="48" height="48" viewBox="0 0 48 48"><path d="M24 32 V17.5 M17.2 23.8 L24 17 L30.8 23.8" fill="none" stroke="#fff" stroke-width="2.4" stroke-linecap="butt" stroke-linejoin="miter"/></svg></div>
</div>
<div class="card card2">
<div class="coach" style="left:16px"><b>COACH</b>Nikos Papanikolopoulos</div>
<div class="coach" style="left:192px"><b>ASSISTANT(S)</b>Konstantinos Papamarkos, Ioannis Missas</div>
</div>
</body></html>
